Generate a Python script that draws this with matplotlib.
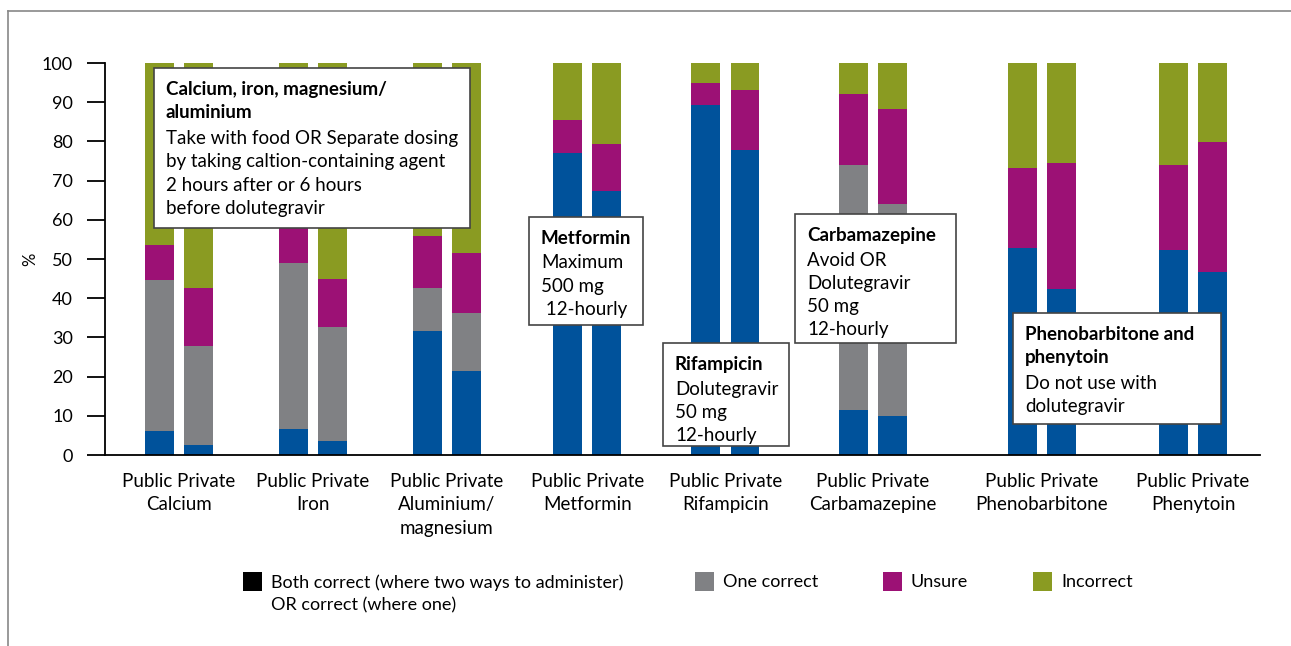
import matplotlib
matplotlib.use("Agg")
import matplotlib.pyplot as plt
from matplotlib.patches import Rectangle
from matplotlib.lines import Line2D

plt.rcParams['font.family'] = ['Lato', 'DejaVu Sans']

# data: % of respondents per drug, public vs private sector
drugs = ['Calcium', 'Iron', 'Aluminium/\nmagnesium', 'Metformin', 'Rifampicin',
         'Carbamazepine', 'Phenobarbitone', 'Phenytoin']
sectors = ['Public', 'Private']

# (public, private) for each drug
correct = [(6.1, 2.6), (6.6, 3.6), (31.6, 21.4), (77.0, 67.3), (89.3, 77.9),
           (11.5, 9.9), (52.8, 42.3), (52.3, 46.7)]
one_correct = [(38.5, 25.2), (42.4, 29.1), (11.0, 14.8), (0, 0), (0, 0),
               (62.5, 54.1), (0, 0), (0, 0)]
unsure = [(9.0, 14.9), (10.0, 12.2), (13.3, 15.3), (8.5, 12.0), (5.6, 15.2),
          (18.1, 24.3), (20.4, 32.2), (21.7, 33.1)]

colors = {'correct': '#00529b', 'one': '#808184', 'unsure': '#9c1175', 'incorrect': '#8a9b22'}

W, H = 1291, 646
fig = plt.figure(figsize=(W / 100, H / 100), dpi=100)
ax = fig.add_axes([105 / W, 1 - 455 / H, 1155 / W, 392 / H])

# group centres (layout, in units of ~134 px)
group_x = [0.55, 1.55, 2.55, 3.60, 4.63, 5.73, 6.99, 8.12]
offset = 0.146
bw = 0.216

for i, gx in enumerate(group_x):
    for j in range(2):
        x = gx + (-offset if j == 0 else offset)
        c = correct[i][j]
        o = one_correct[i][j]
        u = unsure[i][j]
        inc = 100 - c - o - u
        ax.bar(x, c, bw, color=colors['correct'], linewidth=0)
        ax.bar(x, o, bw, bottom=c, color=colors['one'], linewidth=0)
        ax.bar(x, u, bw, bottom=c + o, color=colors['unsure'], linewidth=0)
        ax.bar(x, inc, bw, bottom=c + o + u, color=colors['incorrect'], linewidth=0)

ax.set_xlim(0, 1155 / 134)
ax.set_ylim(0, 100)
ax.set_yticks(range(0, 101, 10))
ax.tick_params(axis='y', length=13, width=1.3, pad=10, labelsize=13)
ax.set_xticks(group_x)
ax.set_xticklabels([' '.join(sectors) + '\n' + d for d in drugs], fontsize=13.5, linespacing=1.45)
ax.tick_params(axis='x', length=0, pad=13)
for s in ['top', 'right']:
    ax.spines[s].set_visible(False)
ax.spines['left'].set_linewidth(1.3)
ax.spines['bottom'].set_linewidth(1.3)
ax.set_ylabel('%', fontsize=12)
ax.yaxis.set_label_coords(-0.058, 0.5)


def note_box(x0, y0, x1, y1, title, body):
    fig.add_artist(Rectangle((x0 / W, 1 - y1 / H), (x1 - x0) / W, (y1 - y0) / H,
                             transform=fig.transFigure, facecolor='white',
                             edgecolor='#444444', linewidth=1.2, zorder=5))
    ty = y0 + 13
    fig.text((x0 + 12) / W, 1 - ty / H, title, fontsize=13.5, fontweight='bold',
             va='top', ha='left', linespacing=1.45, zorder=6)
    ty += 24.5 * (title.count('\n') + 1)
    fig.text((x0 + 12) / W, 1 - ty / H, body, fontsize=13.5, va='top', ha='left',
             linespacing=1.45, zorder=6)


note_box(154, 68, 470, 228, 'Calcium, iron, magnesium/\naluminium',
         'Take with food OR Separate dosing\nby taking caltion-containing agent\n'
         '2 hours after or 6 hours\nbefore dolutegravir')
note_box(529, 217, 643, 325, 'Metformin', 'Maximum\n500 mg\n 12-hourly')
note_box(663, 343, 789, 446, 'Rifampicin', 'Dolutegravir\n50 mg\n12-hourly')
note_box(795, 214, 956, 343, 'Carbamazepine', 'Avoid OR\nDolutegravir\n50 mg\n12-hourly')
note_box(1013, 313, 1221, 424, 'Phenobarbitone and\nphenytoin', 'Do not use with\ndolutegravir')

# legend
legend_items = [('Both correct (where two ways to administer)\nOR correct (where one)', '#000000', 243),
                ('One correct', colors['one'], 695),
                ('Unsure', colors['unsure'], 883),
                ('Incorrect', colors['incorrect'], 1033)]
for label, col, lx in legend_items:
    fig.add_artist(Rectangle((lx / W, 1 - 591 / H), 19 / W, 19 / H,
                             transform=fig.transFigure, facecolor=col, edgecolor='none'))
    fig.text((lx + 28) / W, 1 - 574 / H, label, fontsize=13, va='top', ha='left',
             linespacing=1.5)

# outer frame
fig.add_artist(Line2D([8 / W, 1], [1 - 11 / H, 1 - 11 / H], transform=fig.transFigure,
                      color='#888888', linewidth=1.2))
fig.add_artist(Line2D([8 / W, 8 / W], [0, 1 - 11 / H], transform=fig.transFigure,
                      color='#888888', linewidth=1.2))

fig.savefig('out.png', dpi=100)
